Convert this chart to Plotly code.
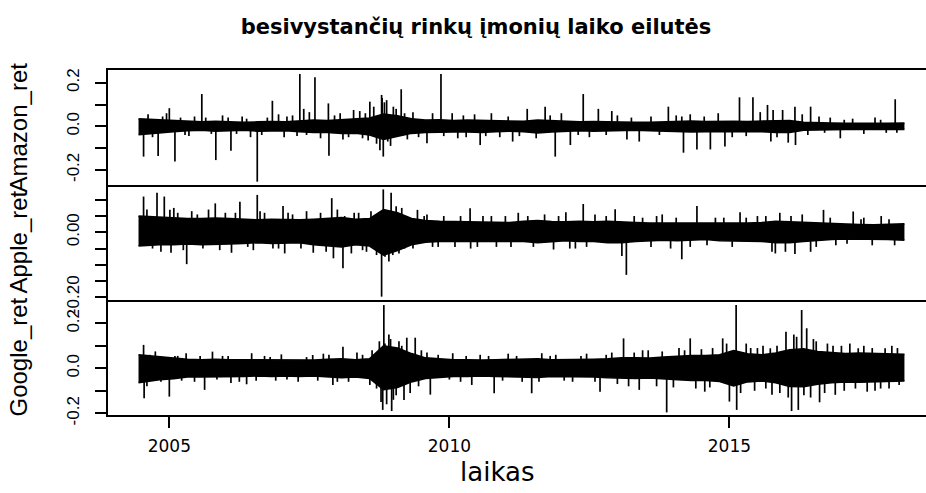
import plotly.graph_objects as go

# ---------------- data ----------------
start_year = 2004.45      # first observation
end_year = 2018.125       # last observation
bin_step = 0.25           # quarterly envelope bins

# dense core of each series, upper and lower edge per quarter (55 quarters)
amazon_hi = [0.034, 0.030, 0.026,
             0.022, 0.020, 0.023, 0.020,
             0.018, 0.020, 0.022, 0.020,
             0.024, 0.028, 0.026, 0.030,
             0.032, 0.038, 0.056, 0.048,
             0.034, 0.028, 0.030, 0.026,
             0.028, 0.026, 0.024, 0.024,
             0.023, 0.028, 0.026, 0.022,
             0.020, 0.022, 0.020, 0.018,
             0.018, 0.018, 0.020, 0.024,
             0.024, 0.022, 0.024, 0.023,
             0.022, 0.023, 0.024, 0.026,
             0.018, 0.015, 0.015, 0.014,
             0.013, 0.014, 0.013, 0.015]
amazon_lo = [-0.038, -0.028, -0.024,
             -0.020, -0.018, -0.022, -0.020,
             -0.018, -0.022, -0.020, -0.020,
             -0.024, -0.028, -0.028, -0.032,
             -0.032, -0.040, -0.060, -0.046,
             -0.032, -0.028, -0.026, -0.026,
             -0.026, -0.028, -0.024, -0.022,
             -0.024, -0.030, -0.026, -0.022,
             -0.020, -0.022, -0.020, -0.018,
             -0.018, -0.020, -0.022, -0.026,
             -0.026, -0.024, -0.024, -0.022,
             -0.022, -0.024, -0.028, -0.028,
             -0.018, -0.015, -0.015, -0.014,
             -0.013, -0.013, -0.014, -0.014]
amazon_spike_t = [2004.54, 2004.80, 2005.10, 2005.00, 2005.58, 2005.83, 2006.10, 2006.57, 2006.84,
                  2007.33, 2007.60, 2007.84, 2007.85, 2007.40, 2008.29, 2008.58, 2008.79, 2008.88,
                  2008.82, 2008.76, 2008.80, 2008.84, 2009.14, 2009.85, 2009.60, 2010.55, 2010.30,
                  2011.13, 2011.39, 2011.71, 2011.89, 2012.16, 2012.39, 2012.66, 2012.90, 2013.17,
                  2013.39, 2013.91, 2014.18, 2014.42, 2014.66, 2014.92, 2015.18, 2015.42, 2015.68,
                  2015.78, 2015.74, 2016.17, 2016.18, 2016.45, 2016.98, 2017.96,
                  2004.62, 2004.95, 2005.35, 2005.45, 2005.95, 2006.30, 2006.45, 2006.95, 2007.05,
                  2007.20, 2007.50, 2007.70, 2008.05, 2008.10, 2008.40, 2008.45, 2008.65, 2008.70,
                  2008.95, 2009.05, 2009.25, 2009.35, 2009.70, 2010.05, 2010.15, 2010.45, 2010.75,
                  2010.90, 2011.55, 2012.00, 2012.50, 2013.00, 2013.60, 2014.05, 2014.30, 2014.80,
                  2015.05, 2015.55, 2015.95, 2016.05, 2016.30, 2016.60, 2016.80, 2017.20, 2017.40,
                  2017.60, 2017.80,
                  2004.70, 2004.88, 2005.20, 2005.28, 2005.65, 2005.75, 2006.05, 2006.20, 2006.38,
                  2006.65, 2006.75, 2007.10, 2007.28, 2007.45, 2007.95, 2008.20, 2008.50, 2008.55,
                  2008.90, 2009.00, 2009.20, 2009.45, 2009.90, 2010.25, 2010.65, 2011.05, 2011.25,
                  2011.80, 2012.30, 2012.80, 2013.25, 2013.75, 2014.15, 2014.55, 2015.30, 2015.85,
                  2016.40, 2016.70, 2017.05, 2017.70, 2017.99]
amazon_spike_v = [-0.139, -0.136, -0.162, 0.083, 0.148, -0.155, -0.112, -0.254, 0.117,
                  0.240, 0.225, 0.105, -0.135, 0.080, 0.075, 0.113, 0.144, 0.120,
                  -0.139, -0.110, 0.130, 0.110, 0.170, 0.240, -0.078, -0.086, -0.050,
                  -0.070, 0.080, 0.090, -0.139, -0.086, 0.148, 0.080, 0.070, -0.060,
                  -0.070, 0.090, -0.121, -0.106, -0.106, -0.093, 0.133, 0.133, 0.098,
                  0.075, -0.070, 0.090, -0.086, 0.090, -0.055, 0.124,
                  0.055, 0.060, -0.045, 0.045, 0.050, 0.045, -0.050, 0.055, -0.050,
                  0.050, 0.065, -0.055, 0.060, -0.060, 0.070, -0.055, 0.090, -0.080,
                  -0.090, 0.080, -0.060, 0.065, 0.060, 0.060, -0.055, 0.055, 0.060,
                  -0.050, -0.055, 0.060, -0.050, 0.050, 0.045, 0.050, 0.055, 0.060,
                  -0.050, 0.065, 0.075, -0.075, 0.055, 0.045, 0.040, 0.035, -0.035,
                  0.040, -0.030,
                  -0.050, 0.045, 0.040, -0.040, 0.040, -0.035, 0.040, -0.035, 0.035,
                  -0.040, 0.040, 0.045, -0.045, -0.040, 0.050, -0.050, 0.060, -0.065,
                  -0.070, 0.090, 0.060, -0.050, -0.045, 0.050, -0.045, 0.045, -0.045,
                  0.050, -0.040, -0.040, 0.040, -0.040, 0.045, 0.045, -0.045, -0.050,
                  -0.040, -0.030, 0.030, 0.030, -0.030]

apple_hi = [0.050, 0.046, 0.044,
            0.042, 0.042, 0.044, 0.042,
            0.040, 0.038, 0.040, 0.038,
            0.038, 0.040, 0.042, 0.045,
            0.040, 0.042, 0.070, 0.060,
            0.042, 0.036, 0.034, 0.033,
            0.034, 0.032, 0.030, 0.030,
            0.034, 0.036, 0.033, 0.032,
            0.034, 0.032, 0.034, 0.033,
            0.030, 0.028, 0.028, 0.026,
            0.028, 0.026, 0.028, 0.028,
            0.028, 0.030, 0.034, 0.032,
            0.030, 0.028, 0.026, 0.024,
            0.024, 0.023, 0.024, 0.026]
apple_lo = [-0.042, -0.038, -0.038,
            -0.036, -0.038, -0.038, -0.036,
            -0.034, -0.032, -0.034, -0.032,
            -0.032, -0.038, -0.042, -0.045,
            -0.038, -0.042, -0.070, -0.056,
            -0.038, -0.030, -0.028, -0.028,
            -0.028, -0.026, -0.026, -0.026,
            -0.028, -0.032, -0.028, -0.026,
            -0.028, -0.028, -0.032, -0.032,
            -0.028, -0.026, -0.024, -0.026,
            -0.024, -0.022, -0.026, -0.026,
            -0.026, -0.028, -0.032, -0.032,
            -0.028, -0.024, -0.022, -0.020,
            -0.020, -0.020, -0.022, -0.024]
apple_spike_t = [2004.54, 2004.78, 2004.91, 2005.01, 2005.31, 2005.03, 2004.70, 2005.82, 2006.11,
                 2006.26, 2006.57, 2007.03, 2007.06, 2007.57, 2007.90, 2008.10, 2007.93, 2008.13,
                 2008.82, 2008.96, 2008.79, 2008.85, 2008.99, 2009.43, 2009.20, 2009.70, 2010.37,
                 2010.38, 2010.84, 2011.23, 2011.86, 2012.08, 2012.39, 2012.96, 2013.08, 2013.16,
                 2013.95, 2014.15, 2014.42, 2015.19, 2015.76, 2016.17, 2016.45, 2016.68, 2017.21,
                 2017.71, 2017.55,
                 2005.15, 2005.50, 2005.60, 2006.00, 2006.40, 2006.70, 2006.85, 2007.20, 2007.35,
                 2007.70, 2008.30, 2008.45, 2008.60, 2008.70, 2009.05, 2009.10, 2009.60, 2009.90,
                 2010.10, 2010.60, 2011.00, 2011.50, 2011.70, 2012.25, 2012.60, 2013.30, 2013.60,
                 2013.80, 2014.60, 2014.90, 2015.50, 2015.90, 2016.00, 2016.30, 2016.90, 2017.40,
                 2017.95,
                 2004.60, 2004.85, 2005.08, 2005.25, 2005.40, 2005.70, 2005.90, 2006.18, 2006.50,
                 2006.62, 2006.95, 2007.12, 2007.45, 2007.80, 2008.00, 2008.25, 2008.38, 2008.52,
                 2008.92, 2009.15, 2009.35, 2009.55, 2009.80, 2010.20, 2010.50, 2010.75, 2011.10,
                 2011.40, 2011.95, 2012.15, 2012.45, 2012.80, 2013.45, 2013.70, 2014.05, 2014.30,
                 2014.75, 2015.05, 2015.30, 2015.65, 2015.82, 2016.10, 2016.55, 2016.80, 2017.10,
                 2017.35, 2017.85]
apple_spike_v = [0.110, 0.122, 0.110, 0.069, -0.098, -0.063, -0.050, 0.089, -0.063,
                 0.094, 0.115, 0.081, -0.065, -0.063, 0.105, -0.111, -0.080, 0.050,
                 0.132, 0.122, -0.198, -0.075, -0.070, 0.069, -0.050, -0.045, 0.074,
                 -0.050, -0.045, 0.060, -0.053, 0.062, 0.087, 0.071, -0.073, -0.131,
                 -0.050, -0.083, 0.081, 0.062, -0.060, -0.067, -0.060, 0.069, 0.064,
                 0.050, -0.040,
                 0.060, 0.055, -0.050, 0.060, -0.045, 0.060, -0.050, 0.055, -0.050,
                 0.060, 0.060, -0.055, 0.065, -0.070, 0.080, -0.065, 0.055, 0.050,
                 -0.045, 0.050, 0.050, -0.045, 0.055, -0.050, 0.055, 0.050, -0.045,
                 0.055, -0.040, 0.045, 0.050, 0.060, -0.060, 0.055, -0.040, 0.045,
                 -0.040,
                 0.070, -0.060, 0.075, -0.055, 0.065, 0.070, -0.055, 0.060, -0.055,
                 0.065, -0.050, 0.060, 0.065, -0.060, 0.070, -0.065, 0.060, -0.060,
                 -0.090, 0.075, -0.050, 0.050, -0.045, 0.050, -0.045, 0.050, -0.045,
                 0.050, 0.050, -0.050, -0.045, 0.050, 0.045, 0.050, 0.045, -0.045,
                 0.045, -0.045, 0.045, 0.050, -0.065, 0.050, -0.045, 0.045, -0.035,
                 0.040, 0.040]

google_hi = [0.060, 0.050, 0.046,
             0.040, 0.038, 0.040, 0.038,
             0.038, 0.036, 0.038, 0.036,
             0.038, 0.036, 0.040, 0.042,
             0.038, 0.042, 0.100, 0.090,
             0.065, 0.046, 0.042, 0.038,
             0.038, 0.036, 0.038, 0.040,
             0.040, 0.042, 0.038, 0.038,
             0.038, 0.040, 0.042, 0.046,
             0.046, 0.045, 0.050, 0.054,
             0.056, 0.056, 0.060, 0.078,
             0.064, 0.060, 0.068, 0.082,
             0.086, 0.074, 0.070, 0.065,
             0.068, 0.066, 0.064, 0.062]
google_lo = [-0.064, -0.050, -0.046,
             -0.038, -0.038, -0.038, -0.036,
             -0.036, -0.034, -0.036, -0.034,
             -0.036, -0.034, -0.038, -0.042,
             -0.038, -0.045, -0.095, -0.085,
             -0.060, -0.045, -0.040, -0.036,
             -0.036, -0.034, -0.036, -0.038,
             -0.038, -0.040, -0.036, -0.036,
             -0.036, -0.038, -0.042, -0.045,
             -0.045, -0.043, -0.048, -0.050,
             -0.054, -0.054, -0.058, -0.078,
             -0.060, -0.056, -0.064, -0.080,
             -0.082, -0.070, -0.064, -0.060,
             -0.062, -0.060, -0.058, -0.056]
google_spike_t = [2004.54, 2004.55, 2005.00, 2005.30, 2005.77, 2005.63, 2006.38, 2006.47, 2007.00,
                  2007.56, 2007.92, 2008.10, 2008.58, 2008.83, 2008.81, 2008.97, 2008.85, 2009.24,
                  2009.39, 2009.19, 2009.66, 2010.80, 2010.40, 2010.06, 2011.47, 2011.65, 2012.69,
                  2013.11, 2013.39, 2013.88, 2014.30, 2014.56, 2014.88, 2015.00, 2015.12, 2015.13,
                  2015.73, 2015.76, 2016.01, 2016.11, 2016.23, 2016.29, 2016.38, 2016.61, 2016.89,
                  2017.30, 2017.46, 2017.78, 2018.03,
                  2004.65, 2004.85, 2005.15, 2005.45, 2005.95, 2006.10, 2006.25, 2006.70, 2006.90,
                  2007.30, 2007.75, 2008.00, 2008.35, 2008.70, 2008.75, 2008.92, 2009.00, 2009.10,
                  2009.30, 2009.50, 2009.80, 2010.20, 2010.55, 2011.05, 2011.30, 2011.90, 2012.20,
                  2012.45, 2012.90, 2013.20, 2013.55, 2013.70, 2014.10, 2014.40, 2014.70, 2015.30,
                  2015.45, 2015.60, 2015.90, 2016.15, 2016.45, 2016.50, 2016.75, 2017.05, 2017.15,
                  2017.60, 2017.90,
                  2004.60, 2004.75, 2005.10, 2005.22, 2005.55, 2005.85, 2006.05, 2006.55, 2006.80,
                  2007.10, 2007.45, 2007.65, 2007.85, 2008.20, 2008.45, 2008.62, 2008.78, 2008.88,
                  2008.95, 2009.05, 2009.15, 2009.45, 2009.60, 2010.00, 2010.30, 2010.70, 2010.95,
                  2011.20, 2011.60, 2011.80, 2012.05, 2012.35, 2012.60, 2012.80, 2013.00, 2013.30,
                  2013.45, 2013.80, 2014.00, 2014.20, 2014.50, 2014.65, 2014.95, 2015.20, 2015.38,
                  2015.50, 2015.65, 2015.85, 2016.05, 2016.20, 2016.33, 2016.55, 2016.70, 2016.85,
                  2017.00, 2017.25, 2017.40, 2017.55, 2017.70, 2017.85, 2018.00]
google_spike_v = [0.104, -0.133, -0.126, 0.067, 0.074, -0.096, -0.071, 0.067, 0.062,
                  0.059, -0.074, 0.096, -0.074, 0.281, -0.185, -0.190, 0.110, 0.136,
                  0.136, -0.141, -0.117, -0.111, -0.074, 0.067, -0.111, 0.067, -0.104,
                  0.133, -0.096, -0.196, 0.133, -0.104, 0.133, -0.148, 0.281, -0.185,
                  0.089, -0.118, 0.163, -0.190, -0.185, 0.259, 0.178, -0.151, -0.118,
                  0.089, -0.104, 0.089, -0.074,
                  0.060, -0.060, 0.055, -0.060, 0.055, -0.065, -0.060, 0.055, -0.055,
                  -0.060, 0.065, -0.060, 0.070, -0.090, 0.120, 0.150, -0.140, 0.120,
                  -0.110, 0.080, 0.060, -0.060, 0.060, 0.065, -0.060, 0.060, -0.060,
                  0.065, 0.070, -0.080, 0.080, -0.080, 0.090, -0.090, 0.090, 0.110,
                  -0.100, 0.100, -0.110, 0.150, -0.130, 0.130, 0.110, -0.100, 0.110,
                  -0.100, 0.100,
                  -0.080, 0.075, 0.055, -0.055, 0.055, -0.050, 0.055, -0.055, 0.050,
                  -0.050, 0.050, -0.055, 0.060, -0.060, 0.060, 0.080, -0.150, -0.160,
                  0.130, -0.120, 0.100, -0.080, 0.070, -0.050, 0.055, 0.055, -0.055,
                  0.055, -0.060, 0.055, -0.055, 0.055, -0.060, 0.060, -0.070, 0.070,
                  0.080, 0.075, -0.085, 0.080, 0.085, -0.085, 0.110, -0.110, 0.090,
                  0.090, -0.090, 0.100, -0.130, 0.140, -0.120, 0.120, -0.110, 0.100,
                  0.100, -0.090, 0.100, 0.090, -0.090, -0.090, 0.090]

series_names = ["Amazon_ret", "Apple_ret", "Google_ret"]
x_tick_vals = [2005, 2010, 2015]
x_tick_text = ["2005", "2010", "2015"]
amazon_ticks = [-0.2, -0.1, 0.0, 0.1, 0.2]
amazon_tick_text = ["-0.2", "", "0.0", "", "0.2"]
apple_ticks = [-0.20, -0.15, -0.10, -0.05, 0.00, 0.05, 0.10]
apple_tick_text = ["-0.20", "", "", "", "0.00", "", ""]
google_ticks = [-0.2, -0.1, 0.0, 0.1, 0.2]
google_tick_text = ["-0.2", "", "0.0", "", "0.2"]

title_text = "besivystančių rinkų įmonių laiko eilutės"
x_title = "laikas"

# ---------------- figure ----------------
W, H = 926, 493
ML, MR, MT, MB = 108, 0, 70, 78
X_RANGE = [2003.905, 2018.51]
SANS = "Liberation Sans, Arial, sans-serif"
WIDE = "DejaVu Sans, Verdana, sans-serif"
LW = 1.7

fig = go.Figure()


def add_series(hi, lo, st, sv, xax, yax):
    n = len(hi)
    xs = [start_year + bin_step * (i + 0.5) for i in range(n)]
    xs[0] = start_year
    xs[-1] = end_year
    fig.add_trace(go.Scatter(x=xs, y=hi, mode="lines", line=dict(color="black", width=LW),
                             xaxis=xax, yaxis=yax, showlegend=False, hoverinfo="skip"))
    fig.add_trace(go.Scatter(x=xs, y=lo, mode="lines", line=dict(color="black", width=LW),
                             fill="tonexty", fillcolor="black",
                             xaxis=xax, yaxis=yax, showlegend=False, hoverinfo="skip"))
    sx, sy = [], []
    for t, v in zip(st, sv):
        sx += [t, t, None]
        sy += [0, v, None]
    fig.add_trace(go.Scatter(x=sx, y=sy, mode="lines", line=dict(color="black", width=LW),
                             xaxis=xax, yaxis=yax, showlegend=False, hoverinfo="skip"))


add_series(amazon_hi, amazon_lo, amazon_spike_t, amazon_spike_v, "x3", "y3")
add_series(apple_hi, apple_lo, apple_spike_t, apple_spike_v, "x2", "y2")
add_series(google_hi, google_lo, google_spike_t, google_spike_v, "x", "y")

common_x = dict(range=X_RANGE, showgrid=False, zeroline=False, showline=True,
                linecolor="black", linewidth=LW, automargin=False)
common_y = dict(showgrid=False, zeroline=False, showline=True, linecolor="black", linewidth=LW,
                ticks="outside", ticklen=11, tickwidth=1.5, tickcolor="black", tickangle=-90,
                tickfont=dict(family=SANS, size=17, color="black"), tickmode="array",
                ticklabelstandoff=9, automargin=False)

fig.update_layout(
    width=W, height=H,
    margin=dict(l=ML, r=MR, t=MT, b=MB, pad=0),
    paper_bgcolor="white", plot_bgcolor="white",
    showlegend=False,
    title=dict(text="<b>" + title_text + "</b>", x=476 / W, xanchor="center", xref="container",
               y=1 - 27 / H, yanchor="middle", yref="container",
               font=dict(family=WIDE, size=21, color="black")),
    xaxis=dict(**common_x, anchor="y", mirror=False, ticks="outside", ticklen=11, tickwidth=1.5,
               tickcolor="black", tickmode="array", tickvals=x_tick_vals, ticktext=x_tick_text,
               tickfont=dict(family=WIDE, size=17, color="black"), ticklabelstandoff=4),
    xaxis2=dict(**common_x, anchor="y2", mirror=False, matches="x", showticklabels=False, ticks=""),
    xaxis3=dict(**common_x, anchor="y3", mirror=True, matches="x", showticklabels=False, ticks=""),
    yaxis=dict(**common_y, domain=[0, 1 / 3], range=[-0.2076, 0.3036], anchor="x",
               tickvals=google_ticks, ticktext=google_tick_text),
    yaxis2=dict(**common_y, domain=[1 / 3, 2 / 3], range=[-0.2083, 0.1455], anchor="x2",
                tickvals=apple_ticks, ticktext=apple_tick_text),
    yaxis3=dict(**common_y, domain=[2 / 3, 1], range=[-0.2693, 0.2583], anchor="x3",
                tickvals=amazon_ticks, ticktext=amazon_tick_text),
)

plot_w = W - ML - MR
label_x = (18 - ML) / plot_w
for name, (lo_d, hi_d) in zip(series_names, [(2 / 3, 1), (1 / 3, 2 / 3), (0, 1 / 3)]):
    fig.add_annotation(text=name, xref="paper", yref="paper", x=label_x, y=(lo_d + hi_d) / 2,
                       xanchor="center", yanchor="middle", textangle=-90, showarrow=False,
                       font=dict(family=SANS, size=24, color="black"))

plot_h = H - MT - MB
fig.add_annotation(text=x_title, xref="paper", yref="paper", x=(497 - ML) / plot_w,
                   y=-(472 - (H - MB)) / plot_h, xanchor="center", yanchor="middle", showarrow=False,
                   font=dict(family=WIDE, size=26, color="black"))

fig.write_html("out.html")
